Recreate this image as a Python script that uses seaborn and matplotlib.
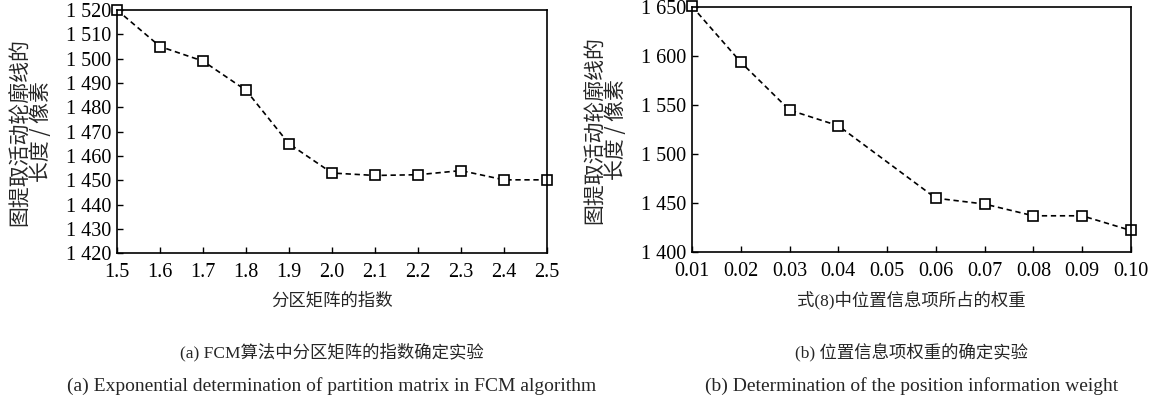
import matplotlib

matplotlib.use("Agg")

import matplotlib.pyplot as plt
import seaborn as sns
from matplotlib.ticker import FuncFormatter, MultipleLocator

# (a) exponent of the partition matrix
exp_x = [1.5, 1.6, 1.7, 1.8, 1.9, 2.0, 2.1, 2.2, 2.3, 2.4, 2.5]
exp_len = [1520, 1505, 1499, 1487, 1465, 1453, 1452, 1452.3, 1454, 1450.2, 1450.2]
exp_ticks = [1.5, 1.6, 1.7, 1.8, 1.9, 2.0, 2.1, 2.2, 2.3, 2.4, 2.5]

# (b) weight of the position term (no run at 0.05)
w_x = [0.01, 0.02, 0.03, 0.04, 0.06, 0.07, 0.08, 0.09, 0.10]
w_len = [1651, 1594, 1545, 1529, 1455, 1449, 1437, 1437, 1422]
w_ticks = [0.01, 0.02, 0.03, 0.04, 0.05, 0.06, 0.07, 0.08, 0.09, 0.10]

YLABEL = "图提取活动轮廓线的\n长度 / 像素"
SERIF = ["Liberation Serif", "Noto Sans CJK SC"]
CJK = ["Noto Sans CJK SC", "DejaVu Sans"]

sns.set_theme(style="ticks")
plt.rcParams["font.family"] = SERIF
plt.rcParams["axes.unicode_minus"] = False


def thousands(v, _pos):
    return f"{int(round(v)):,}".replace(",", " ")


def draw(ax, x, y, ticks, xlim, ylim, ystep, xfmt):
    sns.lineplot(
        x=x, y=y, ax=ax, color="black", linestyle="--", linewidth=1.2,
        marker="s", markersize=6.5, markerfacecolor="white",
        markeredgecolor="black", markeredgewidth=1.2,
    )
    for line in ax.lines:
        line.set_dashes((3.2, 2.2))
        line.set_clip_on(False)
    ax.set_xlim(*xlim)
    ax.set_ylim(*ylim)
    ax.set_xticks(ticks)
    ax.set_xticklabels([xfmt.format(t) for t in ticks])
    ax.yaxis.set_major_locator(MultipleLocator(ystep))
    ax.yaxis.set_major_formatter(FuncFormatter(thousands))
    ax.tick_params(direction="in", length=4, width=1.0, labelsize=14.5,
                   colors="black")
    ax.tick_params(axis="x", pad=7)
    ax.tick_params(axis="y", pad=4)
    for side in ax.spines.values():
        side.set_color("black")
        side.set_linewidth(1.2)
        side.set_visible(True)
    ax.set_xlabel("")
    ax.set_ylabel(YLABEL, fontsize=15, family=CJK, linespacing=0.95, labelpad=10)


fig = plt.figure(figsize=(11.61, 4.07), dpi=100)
ax1 = fig.add_axes([0.1008, 0.3776, 0.3704, 0.5978])
ax2 = fig.add_axes([0.5960, 0.3808, 0.3781, 0.6013])

draw(ax1, exp_x, exp_len, exp_ticks, (1.5, 2.5), (1420, 1520), 10, "{:.1f}")
draw(ax2, w_x, w_len, w_ticks, (0.01, 0.10), (1400, 1650), 50, "{:.2f}")

cx1 = 0.1008 + 0.3704 / 2
cx2 = 0.5960 + 0.3781 / 2
fig.text(cx1, 0.262, "分区矩阵的指数", ha="center", va="center", fontsize=12.5, family=CJK)
fig.text(cx2, 0.262, "式(8)中位置信息项所占的权重", ha="center", va="center", fontsize=12.5, family=SERIF)
fig.text(cx1, 0.135, "(a) FCM算法中分区矩阵的指数确定实验", ha="center", va="center", fontsize=12.5, family=SERIF)
fig.text(cx2, 0.135, "(b) 位置信息项权重的确定实验", ha="center", va="center", fontsize=12.5, family=SERIF)
fig.text(cx1, 0.052, "(a) Exponential determination of partition matrix in FCM algorithm",
         ha="center", va="center", fontsize=14)
fig.text(cx2, 0.052, "(b) Determination of the position information weight",
         ha="center", va="center", fontsize=14)

fig.savefig("out.png", dpi=100)
plt.close(fig)
